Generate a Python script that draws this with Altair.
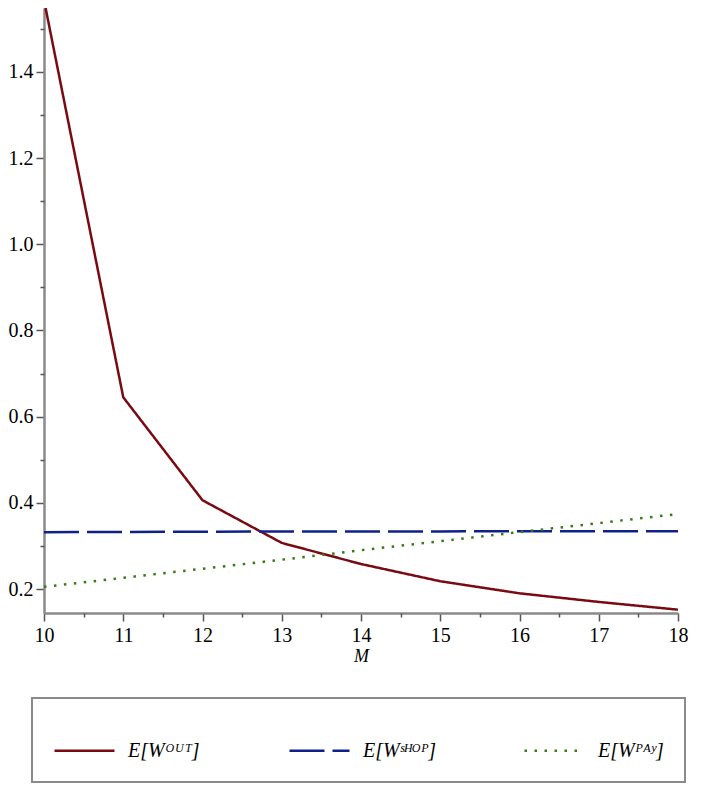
import altair as alt
import pandas as pd

M = [10, 11, 12, 13, 14, 15, 16, 17, 18]
w_out = [1.567, 0.645, 0.406, 0.307, 0.258, 0.218, 0.190, 0.170, 0.152]
w_shop = [0.332, 0.3325, 0.333, 0.3333, 0.3335, 0.3337, 0.334, 0.334, 0.334]
w_pay = [0.205, 0.226, 0.247, 0.268, 0.290, 0.311, 0.332, 0.353, 0.374]

labels = ["E[Wᴼᵁᵀ]", "E[Wˢᴴᴼᴾ]", "E[Wᴾᴬʸ]"]
colors = ["#7a0a12", "#10208a", "#3a7a14"]
dashes = [[1, 0], [35, 8], [2.5, 7.5]]

x_major = [10, 11, 12, 13, 14, 15, 16, 17, 18]
x_minor = [10.5, 11.5, 12.5, 13.5, 14.5, 15.5, 16.5, 17.5]
y_major = [0.2, 0.4, 0.6, 0.8, 1.0, 1.2, 1.4]
y_minor = [0.3, 0.5, 0.7, 0.9, 1.1, 1.3, 1.5]

rows = []
for lab, vals in zip(labels, [w_out, w_shop, w_pay]):
    for m, v in zip(M, vals):
        rows.append({"M": m, "value": v, "series": lab})
df = pd.DataFrame(rows)

font = "Liberation Serif"
xscale = alt.Scale(domain=[10, 18], nice=False, zero=False)
yscale = alt.Scale(domain=[0.1443, 1.5485], nice=False, zero=False)

lines = alt.Chart(df).mark_line(strokeWidth=2.5, clip=True).encode(
    x=alt.X("M:Q", scale=xscale,
            axis=alt.Axis(values=x_major, title="M", format="d", orient="bottom",
                          titleFontStyle="italic", titleFontSize=18,
                          titleFontWeight="normal", titleColor="black", titlePadding=2,
                          labelFontSize=20, labelColor="black",
                          labelPadding=4, tickSize=8, tickColor="#555", tickWidth=1.5,
                          domainColor="#8a8a8a", domainWidth=2.5, grid=False,
                          labelFlush=False)),
    y=alt.Y("value:Q", scale=yscale,
            axis=alt.Axis(values=y_major, title=None, format=".1f", orient="left",
                          labelFontSize=20, labelColor="black",
                          labelPadding=3, tickSize=8, tickColor="#555", tickWidth=1.5,
                          domainColor="#8a8a8a", domainWidth=2.5, grid=False,
                          minExtent=32, maxExtent=32, labelFlush=False)),
    color=alt.Color("series:N", scale=alt.Scale(domain=labels, range=colors),
                    sort=labels, title=None),
    strokeDash=alt.StrokeDash("series:N", scale=alt.Scale(domain=labels, range=dashes),
                              sort=labels, title=None),
    detail="series:N",
)

minor = alt.Chart(df).mark_line(opacity=0, clip=True).encode(
    x=alt.X("M:Q", scale=xscale,
            axis=alt.Axis(values=x_minor, title=None, labels=False, orient="bottom",
                          tickSize=4, tickColor="#555", tickWidth=1.5, domain=False,
                          grid=False)),
    y=alt.Y("value:Q", scale=yscale,
            axis=alt.Axis(values=y_minor, title=None, labels=False, orient="left",
                          tickSize=4, tickColor="#555", tickWidth=1.5, domain=False,
                          grid=False, minExtent=32, maxExtent=32)),
    detail="series:N",
)

chart = alt.layer(lines, minor).resolve_axis(
    x="independent", y="independent"
).properties(
    width=634, height=605, padding=0
).configure(
    font=font
).configure_axis(
    labelFont=font, titleFont=font
).configure_view(
    strokeWidth=0
).configure_legend(
    orient="none", legendX=-12, legendY=690, direction="horizontal", columns=3,
    symbolType="stroke", symbolSize=3600, symbolStrokeWidth=2.5,
    labelFont=font, labelFontSize=20, labelFontStyle="italic", labelColor="black",
    labelOffset=12, columnPadding=82, padding=21, strokeColor="#8a8a8a",
    strokeWidth=2, labelLimit=300, gridAlign="all"
)

chart.save("out.html", embed_options={"renderer": "svg", "actions": False})
